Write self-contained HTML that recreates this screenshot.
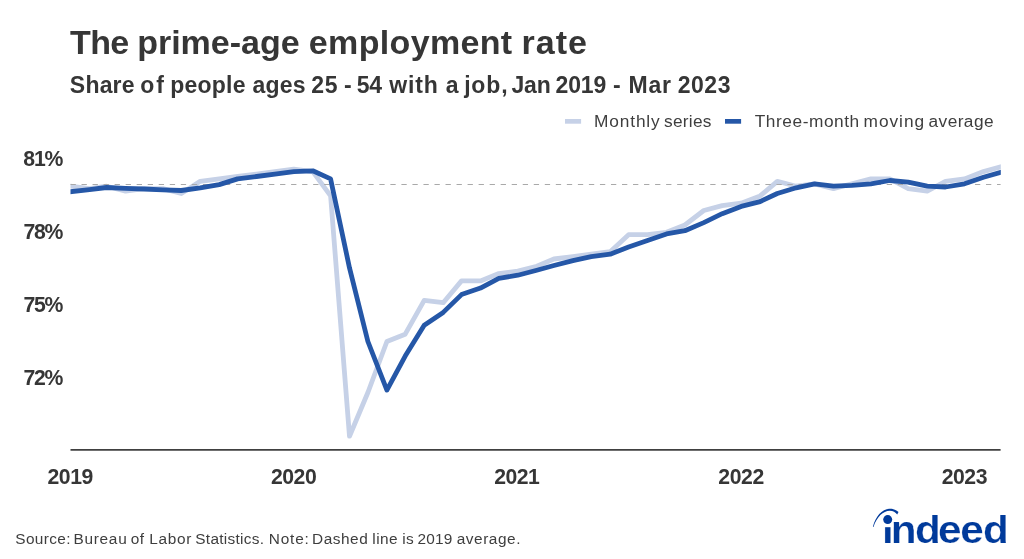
<!DOCTYPE html>
<html><head><meta charset="utf-8"><title>The prime-age employment rate</title>
<style>
html,body{margin:0;padding:0;background:#fff;}
body{width:1024px;height:559px;overflow:hidden;position:relative;font-family:"Liberation Sans",sans-serif;}
svg{position:absolute;left:0;top:0;display:block;}
text{font-family:"Liberation Sans",sans-serif;fill:#363636;}
.b{font-weight:bold;}
.r{fill:#3e3e3e;}
</style></head><body>
<svg width="1024" height="559" viewBox="0 0 1024 559">
<rect width="1024" height="559" fill="#ffffff"/>
<defs><clipPath id="plot"><rect x="70.5" y="140" width="930.3" height="308"/></clipPath></defs>
<text class="b" y="53.8" font-size="34"><tspan x="70.02" textLength="59.16" lengthAdjust="spacing">The</tspan> <tspan x="137.23" textLength="162.33" lengthAdjust="spacing">prime-age</tspan> <tspan x="308.8" textLength="203.37" lengthAdjust="spacing">employment</tspan> <tspan x="521.62" textLength="65.28" lengthAdjust="spacing">rate</tspan></text>
<text class="b" y="93.4" font-size="23"><tspan x="69.85" textLength="64.71" lengthAdjust="spacing">Share</tspan> <tspan x="140.36" textLength="23.48" lengthAdjust="spacing">of</tspan> <tspan x="170.16" textLength="75.39" lengthAdjust="spacing">people</tspan> <tspan x="252.51" textLength="53.15" lengthAdjust="spacing">ages</tspan> <tspan x="311.31" textLength="26.32" lengthAdjust="spacing">25</tspan> <tspan x="343.89">-</tspan> <tspan x="356.65" textLength="25.36" lengthAdjust="spacing">54</tspan> <tspan x="389.31" textLength="48.62" lengthAdjust="spacing">with</tspan> <tspan x="445.72">a</tspan> <tspan x="464.16" textLength="43.37" lengthAdjust="spacing">job,</tspan> <tspan x="511.43" textLength="39.38" lengthAdjust="spacing">Jan</tspan> <tspan x="555.51" textLength="50.78" lengthAdjust="spacing">2019</tspan> <tspan x="612.99">-</tspan> <tspan x="628.48" textLength="42.48" lengthAdjust="spacing">Mar</tspan> <tspan x="677.79" textLength="52.66" lengthAdjust="spacing">2023</tspan></text>
<rect x="565" y="119" width="16.1" height="4.7" fill="#c6d1e7"/>
<text class="r" y="127" font-size="17.3"><tspan x="594.08" textLength="65.6" lengthAdjust="spacing">Monthly</tspan> <tspan x="664.11" textLength="47.34" lengthAdjust="spacing">series</tspan></text>
<rect x="725" y="119" width="16.1" height="4.7" fill="#2557a7"/>
<text class="r" y="127" font-size="17.3"><tspan x="754.71" textLength="104.53" lengthAdjust="spacing">Three-month</tspan> <tspan x="863.59" textLength="60.49" lengthAdjust="spacing">moving</tspan> <tspan x="928.59" textLength="64.96" lengthAdjust="spacing">average</tspan></text>
<text class="b" y="166.1" font-size="21.2"><tspan x="23.17" textLength="40.26" lengthAdjust="spacing">81%</tspan></text>
<text class="b" y="239.0" font-size="21.2"><tspan x="23.41" textLength="40.04" lengthAdjust="spacing">78%</tspan></text>
<text class="b" y="311.9" font-size="21.2"><tspan x="23.41" textLength="40.04" lengthAdjust="spacing">75%</tspan></text>
<text class="b" y="384.7" font-size="21.2"><tspan x="23.41" textLength="40.04" lengthAdjust="spacing">72%</tspan></text>
<path d="M70.5,186.2 L89.5,188.6 L106.6,186.2 L125.6,191.1 L143.9,188.6 L162.9,188.6 L181.3,193.5 L200.2,181.3 L219.2,178.9 L237.6,176.5 L256.5,174.1 L274.9,171.6 L293.8,169.2 L312.8,171.6 L330.6,195.9 L349.5,436.2 L367.9,392.5 L386.9,341.5 L405.2,334.2 L424.2,300.3 L443.2,302.7 L461.5,280.9 L480.5,280.9 L498.8,273.6 L517.8,271.1 L536.8,266.3 L553.9,259.0 L572.9,256.6 L591.2,254.2 L610.2,251.7 L628.6,234.7 L647.5,234.7 L666.5,232.3 L684.9,225.0 L703.8,210.5 L722.2,205.6 L741.2,203.2 L760.1,195.9 L777.3,181.3 L796.2,186.2 L814.6,183.8 L833.5,188.6 L851.9,183.8 L870.9,178.9 L889.8,178.9 L908.2,188.6 L927.2,191.1 L945.5,181.3 L964.5,178.9 L983.5,171.6 L1000.6,166.8" fill="none" stroke="#c6d1e7" stroke-width="4.8" stroke-linejoin="round" stroke-linecap="square" clip-path="url(#plot)"/>
<line x1="70.5" x2="1000.6" y1="184.5" y2="184.5" stroke="#a9a9a9" stroke-width="1.2" stroke-dasharray="5.3,5.73"/>
<path d="M70.5,191.7 L89.5,189.6 L106.6,187.5 L125.6,188.3 L143.9,189.0 L162.9,189.8 L181.3,190.5 L200.2,187.8 L219.2,184.6 L237.6,178.9 L256.5,176.5 L274.9,174.1 L293.8,171.6 L312.8,170.8 L330.6,178.9 L349.5,267.9 L367.9,341.5 L386.9,390.1 L405.2,356.1 L424.2,325.3 L443.2,312.4 L461.5,294.6 L480.5,288.1 L498.8,278.4 L517.8,275.2 L536.8,270.3 L553.9,265.5 L572.9,260.6 L591.2,256.6 L610.2,254.2 L628.6,246.9 L647.5,240.4 L666.5,233.9 L684.9,230.7 L703.8,222.6 L722.2,213.7 L741.2,206.4 L760.1,201.6 L777.3,193.5 L796.2,187.8 L814.6,183.8 L833.5,186.2 L851.9,185.4 L870.9,183.8 L889.8,180.5 L908.2,182.2 L927.2,186.2 L945.5,187.0 L964.5,183.8 L983.5,177.3 L1000.6,172.4" fill="none" stroke="#2557a7" stroke-width="4.8" stroke-linejoin="round" stroke-linecap="square" clip-path="url(#plot)"/>
<line x1="70.5" x2="1000.6" y1="449.8" y2="449.8" stroke="#404040" stroke-width="1.7"/>
<text class="b" y="483.5" font-size="21.2"><tspan x="47.46" textLength="45.8" lengthAdjust="spacing">2019</tspan> <tspan x="270.95" textLength="45.76" lengthAdjust="spacing">2020</tspan> <tspan x="494.22" textLength="45.57" lengthAdjust="spacing">2021</tspan> <tspan x="718.37" textLength="45.9" lengthAdjust="spacing">2022</tspan> <tspan x="941.65" textLength="45.78" lengthAdjust="spacing">2023</tspan></text>
<text class="r" y="544" font-size="15.4"><tspan x="15.29" textLength="55.29" lengthAdjust="spacing">Source:</tspan> <tspan x="73.43" textLength="53.27" lengthAdjust="spacing">Bureau</tspan> <tspan x="130.8" textLength="13.23" lengthAdjust="spacing">of</tspan> <tspan x="149.24" textLength="42.25" lengthAdjust="spacing">Labor</tspan> <tspan x="195.33" textLength="68.64" lengthAdjust="spacing">Statistics.</tspan> <tspan x="268.85" textLength="39.96" lengthAdjust="spacing">Note:</tspan> <tspan x="312.05" textLength="55.68" lengthAdjust="spacing">Dashed</tspan> <tspan x="372.35" textLength="25.24" lengthAdjust="spacing">line</tspan> <tspan x="402.13" textLength="11.59" lengthAdjust="spacing">is</tspan> <tspan x="417.41" textLength="34.84" lengthAdjust="spacing">2019</tspan> <tspan x="456.71" textLength="63.7" lengthAdjust="spacing">average.</tspan></text>
<g id="logo">
<text class="b" transform="scale(1.1035,1)" x="799.30 807.30 829.08 850.05 870.30 890.70" y="543.3" font-size="38.3" style="fill:#003a9b;stroke:#ffffff;stroke-width:0.25">indeed</text>
<rect x="881.5" y="504" width="11.8" height="23.2" fill="#ffffff"/>
<circle cx="887.7" cy="519.6" r="4.5" fill="#003a9b"/>
<path d="M872.9,526.8 C875.5,516.6 881.8,509.1 889.6,508.8 C893.3,508.7 896.5,510.1 898.5,512 L897.2,514.4 C895.5,512.4 893,510.9 889.8,510.8 C883.4,510.7 876.7,517 873.5,526.9 Z" fill="#003a9b"/>
</g>
</svg>
</body></html>
